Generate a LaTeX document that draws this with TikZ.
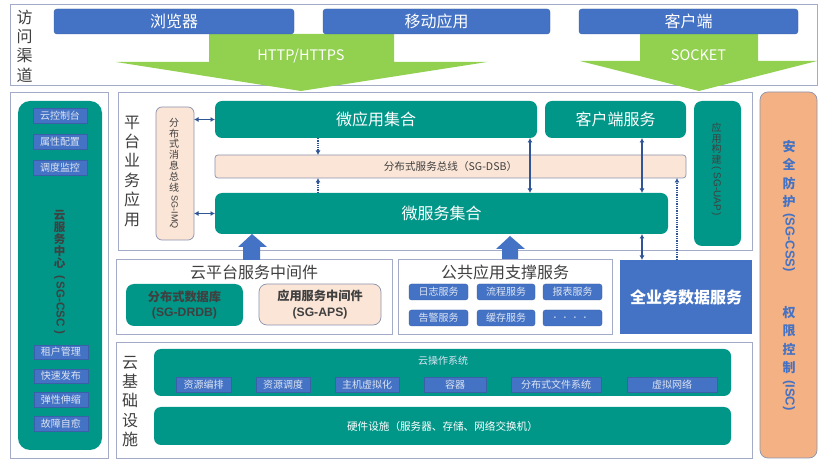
\documentclass[tikz,border=0pt]{standalone}
\usepackage{graphicx}
\usepackage{fontspec}
\setmainfont{Noto Sans CJK SC}
\newfontfamily\lat{Liberation Sans}
\definecolor{teal1}{HTML}{009688}
\definecolor{blue1}{HTML}{4472C4}
\definecolor{blue2}{HTML}{2F5597}
\definecolor{green1}{HTML}{92D050}
\definecolor{peach}{HTML}{FBE5D6}
\definecolor{orange1}{HTML}{F4B183}
\definecolor{frame1}{HTML}{A3ABC8}
\definecolor{edge1}{HTML}{8A93AE}
\definecolor{txt1}{HTML}{404040}
\definecolor{txt2}{HTML}{DDE5F3}
\newcommand{\fs}[1]{\fontsize{#1}{#1}\selectfont}
\newcommand{\fsb}[2]{\fontsize{#1}{#2}\selectfont}
% \pbox{name}{style}{x1}{y1}{x2}{y2}{text}
\newcommand{\pbox}[7]{%
  \pgfmathsetmacro{\cxx}{(#3+#5)/2}\pgfmathsetmacro{\cyy}{(#4+#6)/2}%
  \pgfmathsetmacro{\www}{#5-#3}\pgfmathsetmacro{\hhh}{#6-#4}%
  \node[#2,minimum width=\www pt,minimum height=\hhh pt] (#1) at (\cxx,\cyy) {#7};}
\newcommand{\rt}[1]{\rotatebox{-90}{#1}}
\usetikzlibrary{arrows.meta}
\tikzset{
  base/.style={inner sep=0pt,outer sep=0pt,align=center},
  frm/.style={base,draw=frame1,line width=.8pt,fill=white},
  chan/.style={base,fill=blue1,draw=blue1!85!black,line width=.4pt,rounded corners=3pt,text=white,font=\fs{16}},
  tealbig/.style={base,fill=teal1,rounded corners=7pt,text=white,font=\fs{16}},
  peachbox/.style={base,fill=peach,draw=edge1,line width=.7pt,rounded corners=3pt,text=txt1},
  chip/.style={base,fill=blue1,draw=blue1!85!black,line width=.3pt,text=txt2,font=\fs{10}},
  chipr/.style={chip,rounded corners=2.5pt},
  lbl/.style={base,text=txt1},
  dbl/.style={blue2,line width=1.3pt,{Latex[length=4.5pt,width=5pt]}-{Latex[length=4.5pt,width=5pt]}},
  dot/.style={blue2,line width=1.3pt,densely dotted,-{Latex[length=4.5pt,width=5pt]}},
  bigarrow/.style={fill=green1},
  uparrow/.style={fill=blue1},
}
\begin{document}
\begin{tikzpicture}[x=1pt,y=-1pt]
\useasboundingbox (0,0) rectangle (831,462);
\fill[white] (0,0) rectangle (831,462);
% frames
\pbox{access}{frm}{10}{4.5}{817}{85}{}
\pbox{left}{frm}{10}{92}{108}{458}{}
\pbox{plat}{frm}{118}{92}{752}{250}{}
\pbox{mid}{frm}{116}{259}{392}{334}{}
\pbox{pub}{frm}{398}{259}{612}{334}{}
\pbox{infra}{frm}{116}{342}{752}{458}{}
% access
\node[lbl,font=\fsb{16}{19.4}] (accl) at (24.5,46) {访\\问\\渠\\道};
\fill[bigarrow] (209,34) -- (394,34) -- (394,62) -- (487,62) -- (301,91) -- (116,62) -- (209,62) -- cycle;
\fill[bigarrow] (640,34) -- (758,34) -- (758,61) -- (817,61) -- (699,91) -- (580,61) -- (640,61) -- cycle;
\pbox{browser}{chan}{54}{9}{294}{34}{浏览器}
\pbox{mobile}{chan}{323}{9}{550}{34}{移动应用}
\pbox{client}{chan}{579}{9}{798}{34}{客户端}
\node[base,text=white,font=\fs{14.5}] (http) at (301,56) {HTTP/HTTPS};
\node[base,text=white,font=\fs{14.5}] (sock) at (698.5,55.5) {SOCKET};
% left column
\pbox{csc}{base,fill=teal1,rounded corners=12pt}{18}{101}{102}{450}{}
\pbox{c1}{chip}{33}{108}{87}{123}{云控制台}
\pbox{c2}{chip}{33}{134}{87}{149}{属性配置}
\pbox{c3}{chip}{33}{160}{87}{175}{调度监控}
\pbox{c4}{chip}{34}{345}{88}{359}{租户管理}
\pbox{c5}{chip}{34}{369}{88}{383}{快速发布}
\pbox{c6}{chip}{34}{392}{88}{407}{弹性伸缩}
\pbox{c7}{chip}{34}{416}{88}{431}{故障自愈}
\node[base,text=txt1,anchor=north,font=\fsb{11.5}{12}\bfseries] (csct) at (59.5,210) {云\\服\\务\\中\\心\\[-4pt]\rt{\lat(\hspace{3pt}SG-CSC\hspace{4pt})}};
% platform
\node[lbl,font=\fsb{16}{19.4}] (platl) at (132,171) {平\\台\\业\\务\\应\\用};
\pbox{mq}{peachbox,rounded corners=6pt}{156}{107}{194}{240}{}
\node[base,text=txt1,anchor=north,font=\fsb{10}{10.8}] (mqt) at (174,118) {分\\布\\式\\消\\息\\总\\线\\[-6pt]\rt{\fs{9}\lat SG-IMQ}};
\pbox{app}{tealbig}{215}{101}{537}{138}{微应用集合}
\pbox{cs}{tealbig}{545}{101}{686}{138}{客户端服务}
\pbox{dsb}{peachbox,font=\fs{10.6}}{215}{155}{686}{178}{分布式服务总线（SG-DSB）}
\pbox{svc}{tealbig}{215}{193}{668}{234}{微服务集合}
\pbox{uap}{base,fill=teal1,rounded corners=8pt}{694}{101}{741}{246}{}
\node[base,text=txt1,anchor=north,font=\fsb{10}{10.7}] (uapt) at (716.5,123) {应\\用\\构\\建\\[-8pt]\rt{\lat(\hspace{3pt}SG-UAP\hspace{2pt})}};
% bottom services
\pbox{drdb}{base,fill=teal1,rounded corners=8pt,text=txt1,font=\fsb{12.2}{15.5}\bfseries}{126}{284}{243}{326}{分布式数据库\\{\lat (SG-DRDB)}}
\pbox{aps}{peachbox,rounded corners=8pt,font=\fsb{12.2}{15.5}\bfseries}{259}{284}{381}{325}{应用服务中间件\\{\lat (SG-APS)}}
\node[lbl,font=\fs{16}] (midt) at (254,272) {云平台服务中间件};
\node[lbl,font=\fs{16}] (pubt) at (505,272) {公共应用支撑服务};
\pbox{p1}{chipr}{409}{284}{468}{300}{日志服务}
\pbox{p2}{chipr}{477}{284}{535}{300}{流程服务}
\pbox{p3}{chipr}{543}{284}{602}{300}{报表服务}
\pbox{p4}{chipr}{409}{310}{468}{326}{告警服务}
\pbox{p5}{chipr}{477}{310}{535}{326}{缓存服务}
\pbox{p6}{chipr}{543}{310}{602}{326}{．．．．}
\pbox{data}{base,fill=blue1,text=white,font=\fs{16}\bfseries}{620}{260}{752}{334}{全业务数据服务}
% up arrows
\fill[uparrow] (252,234) -- (267,247) -- (260,247) -- (260,260) -- (243,260) -- (243,247) -- (238,247) -- cycle;
\fill[uparrow] (510,236) -- (525,249) -- (518,249) -- (518,259) -- (502,259) -- (502,249) -- (496,249) -- cycle;
% infrastructure
\node[lbl,font=\fsb{16}{19.4}] (infl) at (130,401.5) {云\\基\\础\\设\\施};
\pbox{os}{base,fill=teal1,rounded corners=7pt}{154}{349}{731}{396}{}
\pbox{hw}{tealbig,font=\fs{10.6}}{154}{407}{731}{445}{硬件设施（服务器、存储、网络交换机）}
\node[base,text=txt2,font=\fs{10}] (ost) at (443,361) {云操作系统};
\pbox{o1}{chip}{176}{377}{231}{392}{资源编排}
\pbox{o2}{chip}{256}{377}{310}{392}{资源调度}
\pbox{o3}{chip}{335}{377}{399}{392}{主机虚拟化}
\pbox{o4}{chip}{424}{377}{486}{392}{容器}
\pbox{o5}{chip}{511}{377}{601}{392}{分布式文件系统}
\pbox{o6}{chip}{627}{377}{717}{392}{虚拟网络}
% security
\pbox{sec}{base,fill=orange1,draw=edge1,line width=.7pt,rounded corners=8pt}{760}{92}{817}{458}{}
\node[base,text=blue1,anchor=north,font=\fsb{13}{18.5}\bfseries] (sect) at (789,140) {安\\全\\防\\护\\[-12pt]\rt{\lat (SG-CSS)}};
\node[base,text=blue1,anchor=north,font=\fsb{13}{18.5}\bfseries] (isct) at (789,306) {权\\限\\控\\制\\[-11pt]\rt{\lat (ISC)}};
% connector x positions
\coordinate (x318) at (318,0);
\coordinate (x530) at (530,0);
\coordinate (x642) at (642,0);
\coordinate (x677) at (677,0);
\draw[dbl] (mq.east |- app.west) -- (app.west);
\draw[dbl] (mq.east |- svc.west) -- (svc.west);
\draw[dot] (app.south -| x318) -- (dsb.north -| x318);
\draw[dot] (svc.north -| x318) -- (dsb.south -| x318);
\draw[dbl] (app.south -| x530) -- (svc.north -| x530);
\draw[dbl] (cs.south -| x642) -- (svc.north -| x642);
\draw[dbl] (svc.south -| x642) -- (data.north -| x642);
\draw[dot] (data.north -| x677) -- (dsb.south -| x677);
\end{tikzpicture}
\end{document}
